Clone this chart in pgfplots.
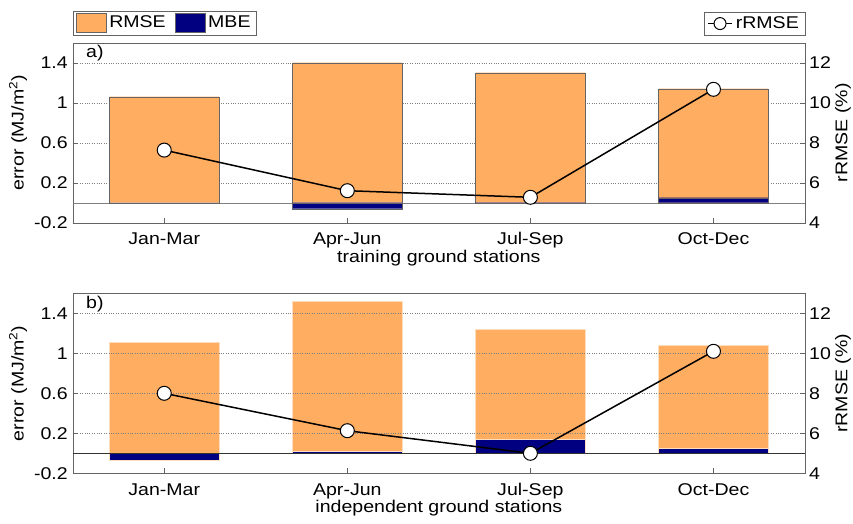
\documentclass[border=0pt]{standalone}
\usepackage{fontspec}
\setmainfont[FakeStretch=1.15]{Liberation Sans}
\usepackage{pgfplots}
\pgfplotsset{compat=1.18}

\definecolor{rmsecol}{RGB}{255,173,96}
\definecolor{mbecol}{RGB}{0,0,128}
\definecolor{frame}{RGB}{100,100,100}

\pgfplotsset{
  every axis/.append style={font=\fontsize{17bp}{20bp}\selectfont},
  panel/.style={
    scale only axis, width=732.3bp, height=180bp,
    xmin=0.5, xmax=4.5,
    tick align=inside, major tick length=5bp,
    tick style={frame, thin},
    axis line style={frame},
  },
  errax/.style={
    panel, ymin=-0.2, ymax=1.6,
    xtick={1,2,3,4}, xticklabels={Jan-Mar,Apr-Jun,Jul-Sep,Oct-Dec},
    xtick pos=bottom,
    ytick={-0.2,0.2,0.6,1,1.4}, yticklabels={-0.2,0.2,0.6,1,1.4},
    ytick pos=left,
    ymajorgrids, major grid style={dotted, gray},
    extra y ticks={0}, extra y tick labels={},
    xticklabel style={anchor=base, yshift=-22bp},
    yticklabel style={anchor=east, inner sep=0pt, xshift=-4.7bp},
    ylabel={error (MJ/m\textsuperscript{2})},
    ylabel style={at={(axis description cs:-0.0747,0.5)}, anchor=center},
    xlabel style={at={(axis description cs:0.5,-0.196)}, anchor=center},
  },
  rrax/.style={
    panel, ymin=4, ymax=13,
    axis y line*=right, axis x line=none,
    ytick={4,6,8,10,12}, yticklabels={4,6,8,10,12},
    yticklabel style={anchor=west, inner sep=0pt, xshift=4bp},
    ylabel={rRMSE (\%)},
    ylabel style={at={(axis description cs:1.0519,0.5)}, anchor=center, rotate=0},
  },
  barleg/.style={legend image code/.code={\draw[##1] (0bp,-9.5bp) rectangle (30bp,9.5bp);}},
  rline/.style={black, line width=1.5bp, mark=*, mark size=7bp,
    mark options={fill=white, draw=black, line width=1bp, solid}},
}

% error statistics per season (MJ/m^2) and relative RMSE (%)
\pgfplotstableread{
x rmse  mbe    rr
1 1.06  0.00   7.63
2 1.40 -0.06   5.60
3 1.30 -0.005  5.27
4 1.14  0.05  10.67
}\training
\pgfplotstableread{
x rmse  mbe    rr
1 1.11 -0.07   8.00
2 1.52  0.02   6.13
3 1.24  0.14   5.00
4 1.08  0.05  10.10
}\independent
\usepackage{pgfplotstable}

\begin{document}
\fontsize{17bp}{20bp}\selectfont
\begin{tikzpicture}
% ---- panel a: training ground stations ----
\begin{axis}[errax, at={(0,0)},
    xlabel={training ground stations},
    extra y tick style={grid=major, major grid style={solid, gray, thin}, major tick length=0pt},
    legend style={at={(axis description cs:0,1)}, anchor=south west, yshift=7.7bp,
      draw=frame, legend columns=2, inner xsep=3bp, inner ysep=2bp,
      nodes={inner xsep=3bp, inner ysep=2bp},
      /tikz/every even column/.append style={column sep=6bp}},
  ]
  \addplot[ybar, bar width=0.6, bar shift=0pt, fill=rmsecol, draw=frame, barleg]
    table[x=x, y=rmse] {\training};
  \addlegendentry{RMSE}
  \addplot[ybar, bar width=0.6, bar shift=0pt, fill=mbecol, draw=frame, barleg]
    table[x=x, y=mbe] {\training};
  \addlegendentry{MBE}
  \node[anchor=west, inner sep=0pt] at ([xshift=13.3bp, yshift=-10.6bp]rel axis cs:0,1) {a)};
\end{axis}
\begin{axis}[rrax, at={(0,0)},
    legend style={at={(axis description cs:1,1)}, anchor=south east, yshift=7.7bp,
      draw=frame, inner xsep=3bp, inner ysep=2bp,
      nodes={inner xsep=3bp, inner ysep=2bp}},
    legend image code/.code={\draw[mark repeat=2, mark phase=2, #1, mark size=6bp]
      plot coordinates {(0bp,0bp) (12bp,0bp) (24bp,0bp)};},
  ]
  \addplot[rline] table[x=x, y=rr] {\training};
  \addlegendentry{rRMSE}
\end{axis}

% ---- panel b: independent ground stations ----
\begin{axis}[errax, at={(0,-250.6bp)}, axis on top,
    xlabel={independent ground stations},
    extra y tick style={grid=major, major grid style={solid, black!80, thin}, major tick length=0pt},
  ]
  \addplot[ybar, bar width=0.6, bar shift=0pt, fill=rmsecol, draw=rmsecol!40!white]
    table[x=x, y=rmse] {\independent};
  \addplot[ybar, bar width=0.6, bar shift=0pt, fill=mbecol, draw=rmsecol!40!white]
    table[x=x, y=mbe] {\independent};
  \node[anchor=west, inner sep=0pt] at ([xshift=13.3bp, yshift=-10.6bp]rel axis cs:0,1) {b)};
\end{axis}
\begin{axis}[rrax, at={(0,-250.6bp)}]
  \addplot[rline] table[x=x, y=rr] {\independent};
\end{axis}

\pgfresetboundingbox
\path[use as bounding box] (-72.7bp,-301.3bp) rectangle (780.3bp,222.7bp);
\end{tikzpicture}
\end{document}
